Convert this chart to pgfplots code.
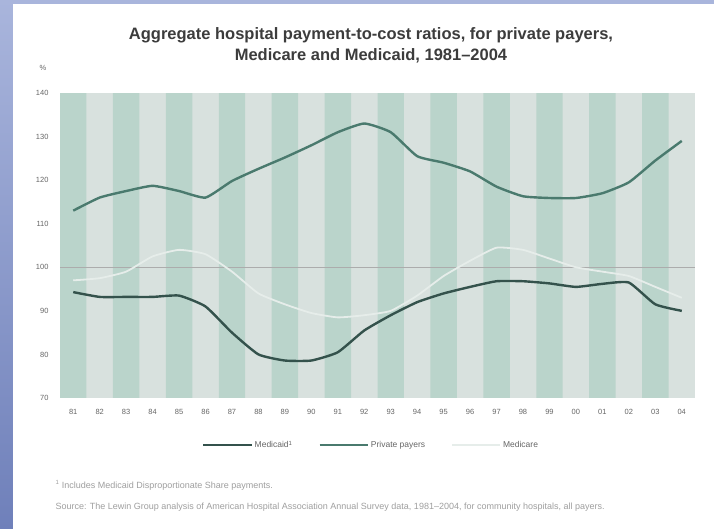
\documentclass[border=0pt]{standalone}
\usepackage{pgfplots}
\pgfplotsset{compat=1.18}
\usepackage{fontspec}
\setmainfont{Liberation Sans}

\definecolor{frametop}{HTML}{A9B5DC}
\definecolor{framebot}{HTML}{6F80BA}
\definecolor{stripeA}{HTML}{BAD4CB}
\definecolor{stripeB}{HTML}{D8E1DE}
\definecolor{privline}{HTML}{4A7A6E}
\definecolor{caidline}{HTML}{34524C}
\definecolor{careline}{HTML}{E6EDEA}
\definecolor{txt}{HTML}{3C3C3C}
\definecolor{ticktxt}{HTML}{666666}

\begin{document}
\begin{tikzpicture}
% page frame
\shade[top color=frametop, bottom color=framebot] (0pt,0pt) rectangle (714pt,529pt);
\fill[white] (13pt,0pt) rectangle (714pt,525pt);

\node[font=\bfseries\fontsize{16.5}{21}\selectfont, text=txt, align=center]
  at (371pt,484pt) {Aggregate hospital payment-to-cost ratios, for private payers,\\Medicare and Medicaid, 1981--2004};

\begin{axis}[
    at={(60pt,131pt)}, anchor=south west,
    scale only axis, width=635pt, height=305pt,
    xmin=1980.5, xmax=2004.5,
    ymin=70, ymax=140,
    axis background/.style={fill=stripeB},
    axis line style={draw=none},
    major tick length=0pt,
    xtick={1981,...,2004},
    xticklabels={81,82,83,84,85,86,87,88,89,90,91,92,93,94,95,96,97,98,99,00,01,02,03,04},
    ytick={70,80,...,140},
    /pgf/number format/assume math mode=true,
    tick label style={font=\fontsize{7.5}{9}\selectfont, text=ticktxt},
    xticklabel style={yshift=-8pt},
    yticklabel style={xshift=-8pt},
    legend columns=3,
    legend style={draw=none, fill=none, at={(0.49,-0.155)}, anchor=center,
        font=\fontsize{8.5}{10}\selectfont, text=ticktxt,
        /tikz/every even column/.append style={column sep=24pt}},
    legend image code/.code={\draw[#1] (0pt,0pt) -- (48pt,0pt);},
]
% background stripes, one per year
\addplot[ybar, bar width=1, fill=stripeA, draw=none, forget plot] coordinates {
(1981,140) (1983,140) (1985,140) (1987,140) (1989,140) (1991,140)
(1993,140) (1995,140) (1997,140) (1999,140) (2001,140) (2003,140)};
\addplot[color=gray!65, line width=1.2pt, forget plot] coordinates {(1980.5,100) (2004.5,100)};

\addplot[color=caidline, line width=2.4pt, smooth, tension=0.3] coordinates {
(1981,94.3) (1982,93.2) (1983,93.2) (1984,93.2) (1985,93.5) (1986,91)
(1987,85) (1988,80) (1989,78.6) (1990,78.6) (1991,80.5) (1992,85.5)
(1993,89) (1994,92) (1995,94) (1996,95.5) (1997,96.8) (1998,96.8)
(1999,96.3) (2000,95.5) (2001,96.2) (2002,96.5) (2003,91.5) (2004,90)};
\addlegendentry{Medicaid\textsuperscript{1}}

\addplot[color=privline, line width=2.4pt, smooth, tension=0.3] coordinates {
(1981,113) (1982,116) (1983,117.5) (1984,118.7) (1985,117.5) (1986,116)
(1987,119.8) (1988,122.6) (1989,125.2) (1990,128) (1991,131) (1992,133)
(1993,131) (1994,125.5) (1995,124) (1996,122) (1997,118.5) (1998,116.3)
(1999,115.9) (2000,115.9) (2001,117) (2002,119.5) (2003,124.5) (2004,129)};
\addlegendentry{Private payers}

\addplot[color=careline, line width=1.8pt, smooth, tension=0.3] coordinates {
(1981,97) (1982,97.5) (1983,99) (1984,102.5) (1985,104) (1986,103)
(1987,99) (1988,94) (1989,91.5) (1990,89.5) (1991,88.5) (1992,89)
(1993,90) (1994,93.5) (1995,98) (1996,101.5) (1997,104.5) (1998,104)
(1999,102) (2000,100) (2001,99) (2002,98) (2003,95.5) (2004,93)};
\addlegendentry{Medicare}
\end{axis}

\node[font=\fontsize{7.5}{9}\selectfont, text=ticktxt] at (43pt,461pt) {\%};

\node[anchor=west, font=\fontsize{9}{11}\selectfont, text=gray!75] at (52pt,44pt)
  {\textsuperscript{1} Includes Medicaid Disproportionate Share payments.};
\node[anchor=west, font=\fontsize{9}{11}\selectfont, text=gray!75] at (52pt,22pt)
  {Source: The Lewin Group analysis of American Hospital Association Annual Survey data, 1981--2004, for community hospitals, all payers.};
\end{tikzpicture}
\end{document}
